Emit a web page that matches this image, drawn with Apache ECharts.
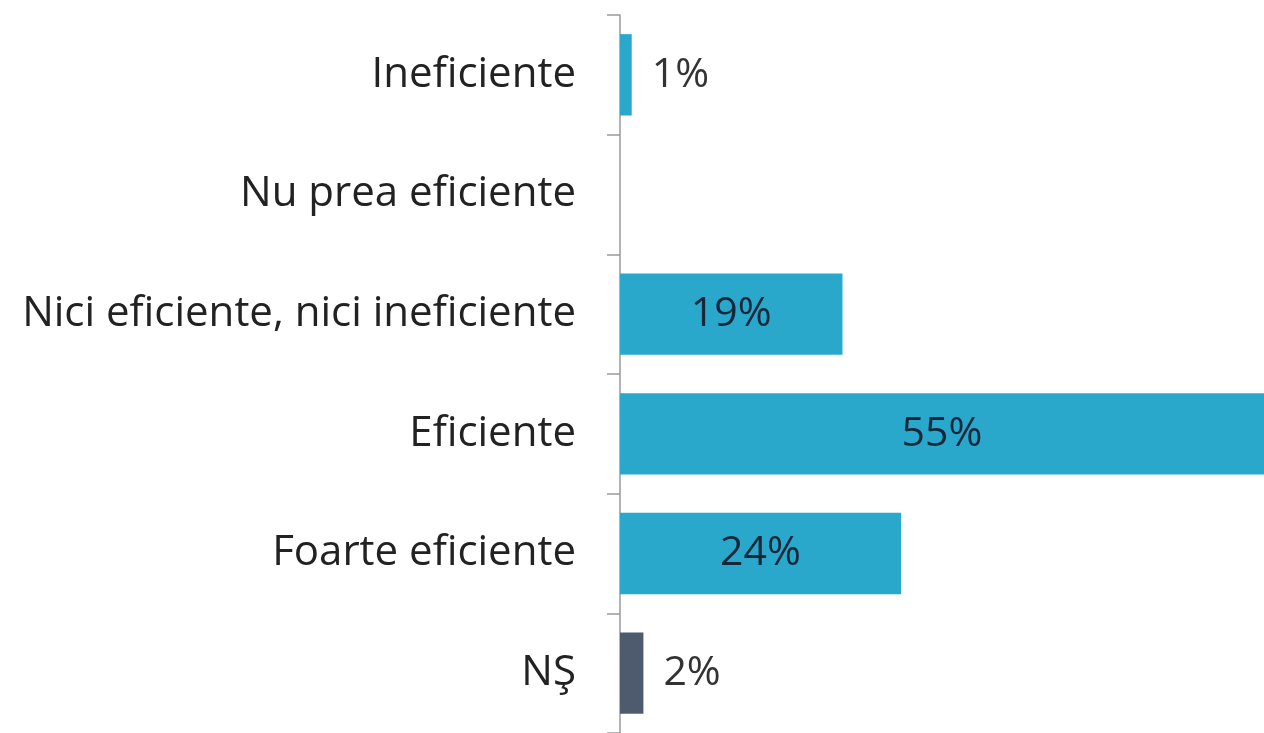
<!DOCTYPE html>
<html>
<head>
<meta charset="utf-8">
<script src="https://cdn.jsdelivr.net/npm/echarts@6/dist/echarts.min.js"></script>
<style>
  html, body { margin: 0; padding: 0; background: #fff; }
  #chart { width: 1264px; height: 733px; }
</style>
</head>
<body>
<div id="chart"></div>
<script>
const categories = ['Ineficiente', 'Nu prea eficiente', 'Nici eficiente, nici ineficiente', 'Eficiente', 'Foarte eficiente', 'NŞ'];
const values = [1, null, 19, 55, 24, 2];
const barColors = ['#2aa8cc', '#2aa8cc', '#2aa8cc', '#2aa8cc', '#2aa8cc', '#4e5a6e'];

// small bars get their label outside, the rest inside
const seriesData = values.map((v, i) => {
  const small = v !== null && v < 5;
  return {
    value: v,
    itemStyle: { color: barColors[i] },
    label: small
      ? { position: 'right', distance: 20, color: '#333' }
      : { position: 'inside', color: '#14283a' }
  };
});

const chart = echarts.init(document.getElementById('chart'));
chart.setOption({
  animation: false,
  grid: {
    left: 620,
    right: -16,
    top: 15,
    bottom: -2
  },
  xAxis: {
    type: 'value',
    min: 0,
    max: 55,
    show: false
  },
  yAxis: {
    type: 'category',
    inverse: true,
    data: categories,
    axisLine: { show: true, lineStyle: { color: '#9a9a9a', width: 1.5 } },
    axisTick: { show: true, length: 13, lineStyle: { color: '#9a9a9a', width: 1.5 } },
    axisLabel: {
      margin: 44,
      color: '#222',
      fontFamily: 'Open Sans',
      fontWeight: 500,
      fontSize: 42
    }
  },
  series: [{
    type: 'bar',
    data: seriesData,
    barCategoryGap: '32%',
    label: {
      show: true,
      fontFamily: 'Open Sans',
      fontWeight: 500,
      fontSize: 41,
      formatter: p => p.value + '%'
    }
  }]
});
</script>
</body>
</html>
